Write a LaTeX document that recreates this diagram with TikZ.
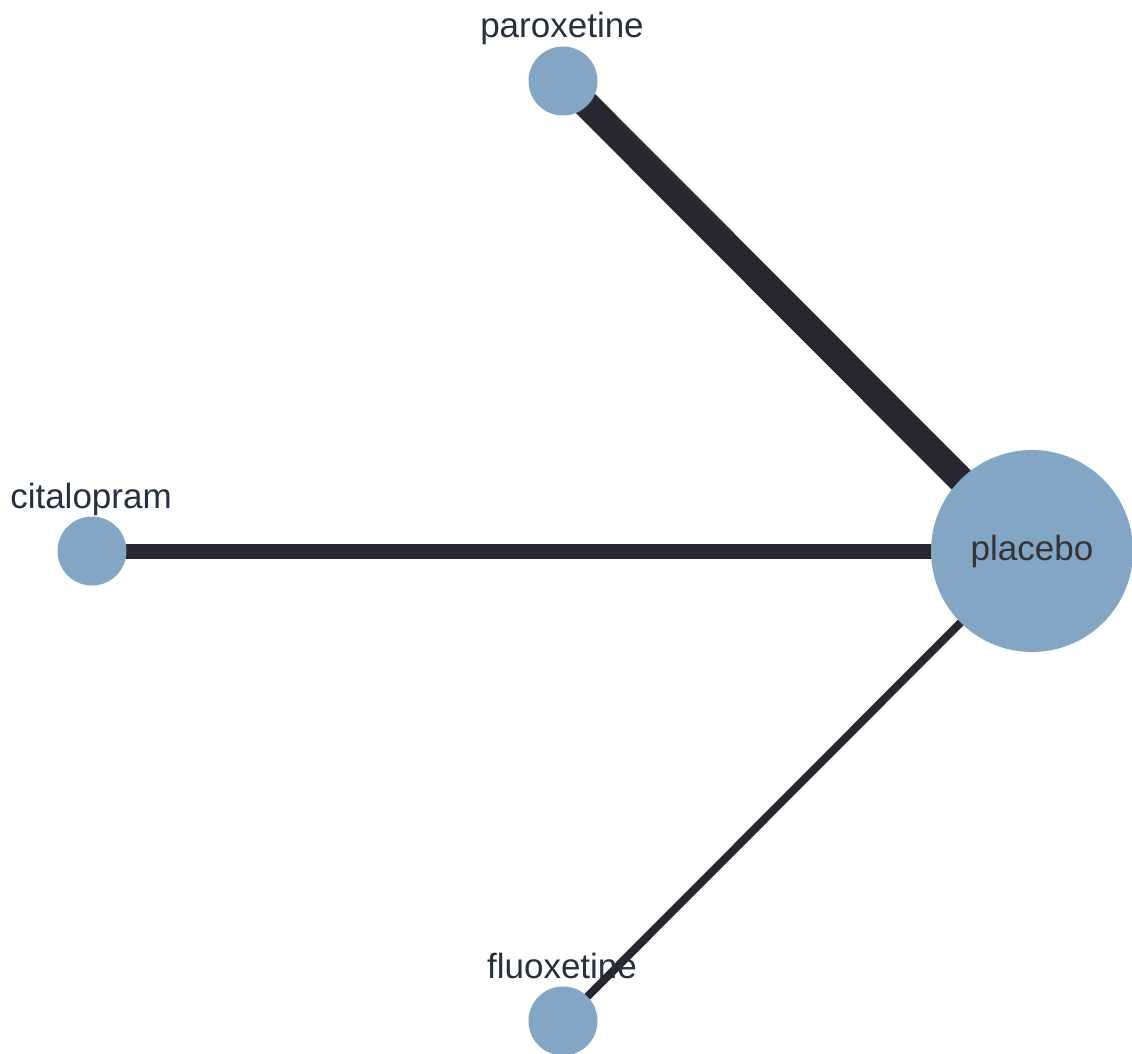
\documentclass[tikz,border=0pt]{standalone}
\usepackage{fontspec}
\setmainfont{Liberation Sans}
\usetikzlibrary{backgrounds}
\definecolor{nodefill}{HTML}{82A6C4}
\definecolor{edgecol}{HTML}{27272F}
\definecolor{labelcol}{HTML}{26303F}
\definecolor{placebotxt}{HTML}{333338}
\begin{document}
\begin{tikzpicture}[x=1pt,y=-1pt,
  drug/.style={circle,fill=nodefill,inner sep=0pt,minimum size=#1},
  edge/.style={draw=edgecol,line width=#1},
  lbl/.style={anchor=base,inner sep=0pt,text=labelcol,font=\fontsize{35}{40}\selectfont}]
\useasboundingbox (0,0) rectangle (1132,1053);
\node[drug=69pt] (par) at (563,81) {};
\node[drug=69pt] (cit) at (92,551) {};
\node[drug=69pt] (flu) at (563,1021) {};
\node[drug=202pt] (pla) at (1032,551) {};
\begin{scope}[on background layer]
\draw[edge=27pt] (par.center) -- (pla.center);
\draw[edge=15pt] (cit.center) -- (pla.center);
\draw[edge=8pt] (flu.center) -- (pla.center);
\end{scope}
\node[anchor=base,inner sep=0pt,text=placebotxt,font=\fontsize{35}{40}\selectfont] (plalbl) at (1032,560) {placebo};
\node[lbl] (parlbl) at (562,37) {paroxetine};
\node[lbl] (citlbl) at (91,508) {citalopram};
\node[lbl] (flulbl) at (562,978) {fluoxetine};
\end{tikzpicture}
\end{document}
